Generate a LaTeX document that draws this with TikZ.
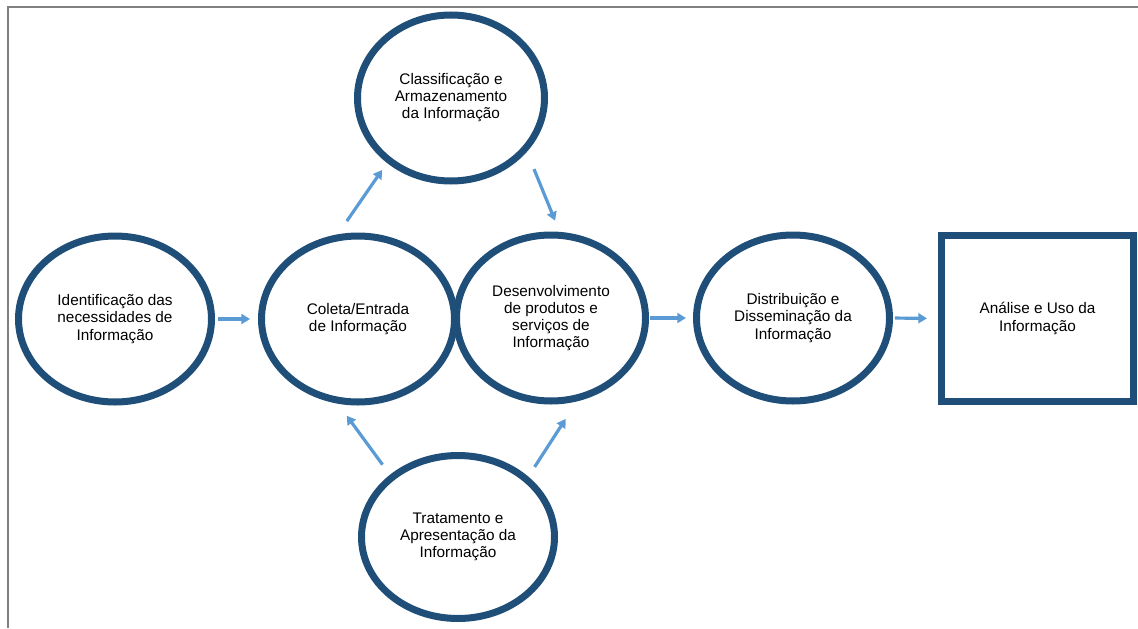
\documentclass[tikz,border=0pt]{standalone}
\usepackage{fontspec}
\setmainfont{Liberation Sans}
\usepackage{xcolor}
\usetikzlibrary{shapes.geometric, arrows.meta, positioning}

\definecolor{navy}{HTML}{1F4E79}
\definecolor{flowblue}{HTML}{5B9BD5}
\definecolor{framegray}{HTML}{808080}

\begin{document}
\begin{tikzpicture}[x=0.75pt, y=-0.75pt,
  stage/.style={ellipse, draw=navy, line width=5.25pt, outer sep=0pt, inner sep=0pt,
    minimum width=144.75pt, minimum height=124.5pt, align=center,
    font=\fontsize{11.5}{12.8}\selectfont},
  goal/.style={rectangle, draw=navy, line width=5.25pt, outer sep=0pt, inner sep=0pt,
    minimum width=144pt, minimum height=124.5pt, align=center,
    font=\fontsize{11.5}{12.8}\selectfont},
  flow/.style={draw=flowblue, line width=2.4pt, -{Triangle[length=6.5pt,width=7.5pt]}}]

  \useasboundingbox (0,0) rectangle (1138,628);

  % Frame
  \draw[framegray, line width=1.5pt] (1138,7) -- (8,7) -- (8,628);

  % Stages
  \node[stage] (ident) at (115,319) {Identificação das\\necessidades de\\Informação};
  \node[stage] (coleta) at (358,319) {Coleta/Entrada\\de Informação};
  \node[stage, minimum width=141.75pt] (desenv) at (551,318) {Desenvolvimento\\de produtos e\\serviços de\\Informação};
  \node[stage, minimum width=140.25pt] (classif) at (451,98) {Classificação e\\Armazenamento\\da Informação};
  \node[stage, minimum height=122.25pt] (trat) at (458,537) {Tratamento e\\Apresentação da\\Informação};
  \node[stage] (distrib) at (793,318) {Distribuição e\\Disseminação da\\Informação};
  \node[goal] (analise) at (1037.5,318.5) {Análise e Uso da\\Informação};

  % Main line
  \draw[flow, shorten <=4.9pt, shorten >=8.6pt] (ident.east) -- (coleta.west);
  \draw[flow, shorten <=3.4pt, shorten >=7.9pt] (desenv.east) -- (distrib.west);
  \draw[flow, shorten <=4.1pt, shorten >=10.9pt] (distrib.east) -- (analise.west);

  % Loop over and under
  \draw[flow, shorten <=15.75pt, shorten >=9pt] (coleta.106) -- (classif.225);
  \draw[flow, shorten <=16.9pt, shorten >=12pt] (classif.326) -- (desenv.83);
  \draw[flow, shorten <=12pt, shorten >=15pt] (trat.138.5) -- (coleta.254.4);
  \draw[flow, shorten <=11.25pt, shorten >=19.5pt] (trat.40.8) -- (desenv.290.6);
\end{tikzpicture}
\end{document}
